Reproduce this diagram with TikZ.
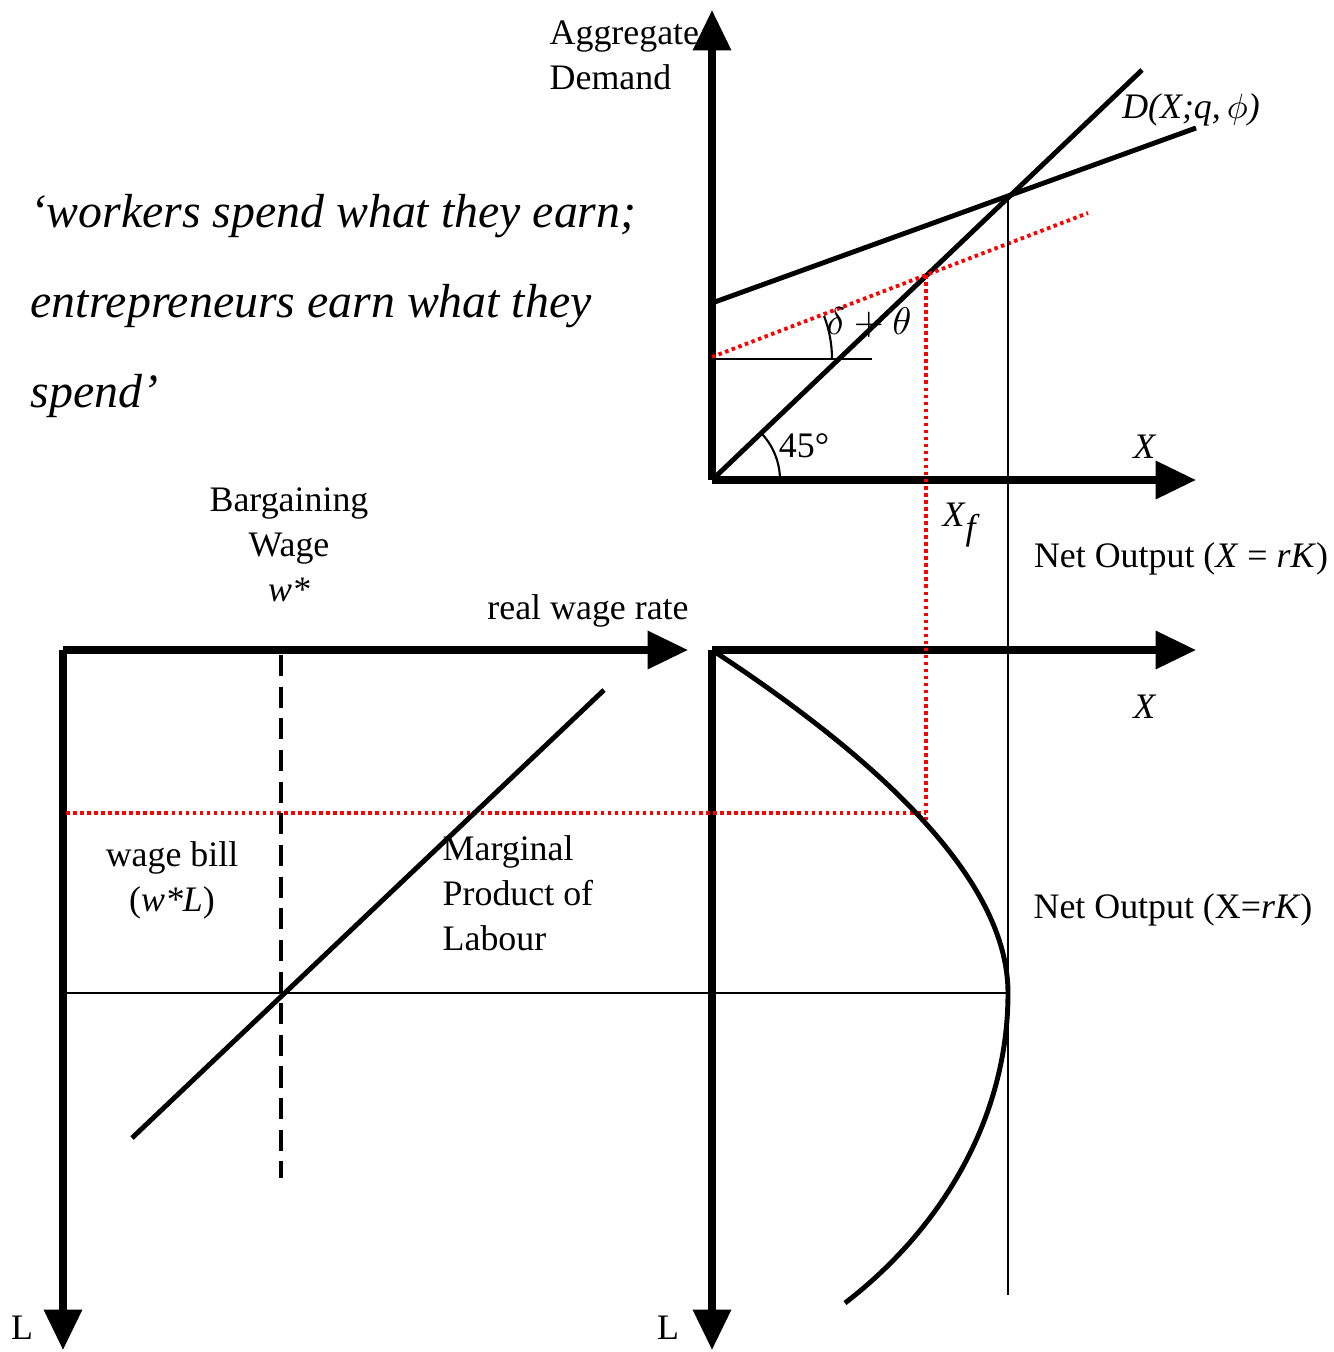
\documentclass[tikz,border=0pt]{standalone}
\usepackage{fontspec}
\setmainfont{Liberation Serif}
\usepackage{tikz}
\usetikzlibrary{arrows.meta,calc,positioning}

\begin{document}
\begin{tikzpicture}[
    x=0.01cm, y=-0.01cm,
    axis/.style={line width=2pt, line join=miter, -{Triangle[width=10.5pt,length=11.5pt]}},
    curveline/.style={line width=1.4pt},
    thinline/.style={line width=0.6pt},
    reddot/.style={red, line width=1.1pt, dash pattern=on 1pt off 1pt},
    lbl/.style={inner sep=0pt, font=\fontsize{10.2}{12.8}\selectfont},
    quote/.style={inner sep=0pt, align=left, font=\fontsize{13.6}{25.6}\selectfont\itshape}
]
    \useasboundingbox (0,0) rectangle (1333,1352);

    % Axis corners and ends
    \coordinate (top) at (712,480);
    \coordinate (topY) at (712,10);
    \coordinate (topX) at (1196,480);
    \coordinate (low) at (712,650);
    \coordinate (lowX) at (1196,650);
    \coordinate (lowL) at (712,1350);
    \coordinate (left) at (63,650);
    \coordinate (leftW) at (688,650);
    \coordinate (leftL) at (63,1350);

    % Upper panel lines
    \coordinate (diagEnd) at (1142,70);
    \coordinate (demA) at (712,303);
    \coordinate (demB) at (1196,128);
    \coordinate (eq) at (1008,197);
    \coordinate (redA) at (712,357);
    \coordinate (redB) at (1088,213);
    \coordinate (full) at (926,275);
    \coordinate (horA) at (712,359);
    \coordinate (horB) at (872,359);

    % Lower panel points
    \coordinate (eqLow) at (1008,1295);
    \coordinate (fullLow) at (926,825);
    \coordinate (wbill) at (66,813);
    \coordinate (wbillEnd) at (926,813);
    \coordinate (peakA) at (63,993);
    \coordinate (peak) at (1008,993);
    \coordinate (curveEnd) at (845,1303);
    \coordinate (mplA) at (132,1138);
    \coordinate (mplB) at (604,690);
    \coordinate (wageA) at (281,655);
    \coordinate (wageB) at (281,1178);

    % Axes
    \draw[axis] (top) -- (topY);
    \draw[axis] (top) -- (topX);
    \draw[axis] (low) -- (lowX);
    \draw[axis] (low) -- (lowL);
    \draw[axis] (left) -- (leftW);
    \draw[axis] (left) -- (leftL);

    % Upper panel
    \draw[curveline] (top) -- (diagEnd);
    \draw[curveline] (demA) -- (demB);
    \draw[reddot] (redA) -- (redB);
    \draw[thinline] (horA) -- (horB);
    \draw[thinline] ($(top)+(68,0)$) arc[start angle=0, end angle=-45, radius=68];
    \draw[thinline] ($(horA)+(120,0)$) arc[start angle=0, end angle=-21, radius=120];

    % Links between panels
    \draw[thinline] (eq) -- (eqLow);
    \draw[reddot] (full) -- (fullLow);
    \draw[reddot] (wbill) -- (wbillEnd);
    \draw[thinline] (peakA) -- (peak);

    % Production curve
    \draw[curveline] (low) .. controls (880,760) and (1008,880) .. (peak)
        .. controls (1008,1120) and (940,1230) .. (curveEnd);

    % Marginal product and bargaining wage
    \draw[curveline] (mplA) -- (mplB);
    \draw[curveline, dash pattern=on 6pt off 3pt] (wageA) -- (wageB);

    % Labels
    \node[lbl, align=left, anchor=west] (aggdem) at (549,55) {Aggregate\\Demand};
    \node[lbl] (dlabel) at (1191,110) {\textit{D(X;q,}\,$\phi$\textit{)}};
    \node[lbl] (angle) at (869,323) {\fontsize{11}{13}\selectfont$\delta+\theta$};
    \node[lbl] (deg) at (804,446) {45°};
    \node[lbl] (xtop) at (1145,447) {\textit{X}};
    \node[lbl] (xf) at (960,525) {\textit{X}$_{\textit{f}}$};
    \node[lbl] (netA) at (1181,559) {Net Output (\textit{X} = \textit{rK})};
    \node[lbl] (wagerate) at (588,611) {real wage rate};
    \node[lbl, align=center] (bargain) at (289,545) {Bargaining\\Wage\\\textit{w*}};
    \node[lbl] (xlow) at (1145,707) {\textit{X}};
    \node[lbl, align=center] (wagebill) at (172,880) {wage bill\\(\textit{w*L})};
    \node[lbl, align=left, anchor=west] (mpl) at (442,893) {Marginal\\Product of\\Labour};
    \node[lbl] (netB) at (1173,910) {Net Output (X=\textit{rK})};
    \node[lbl] (lleft) at (22,1328) {L};
    \node[lbl] (lright) at (668,1328) {L};
    \node[quote, anchor=west] (saying) at (30,306) {‘workers spend what they earn;\\entrepreneurs earn what they\\spend’};
\end{tikzpicture}
\end{document}
